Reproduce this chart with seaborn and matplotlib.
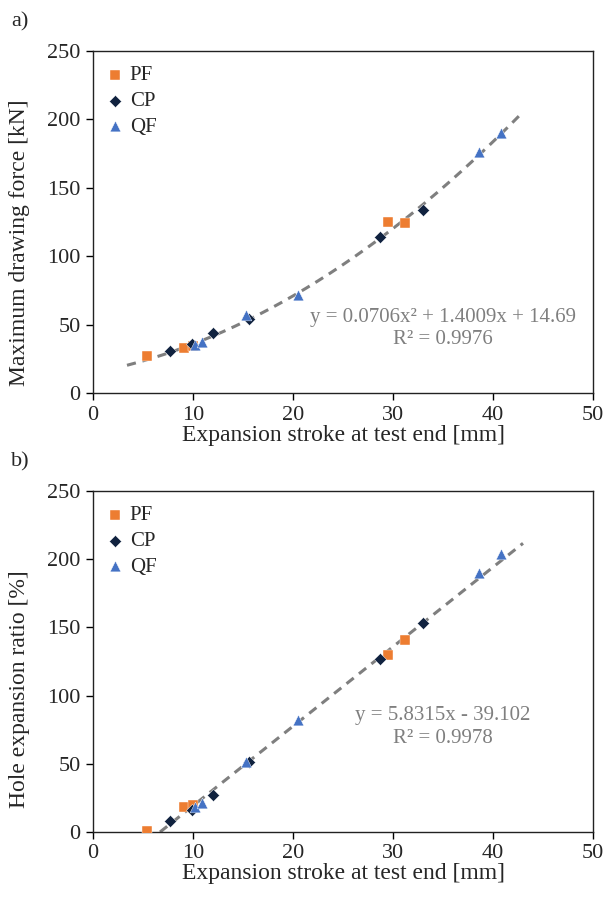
import numpy as np
import pandas as pd
import matplotlib
matplotlib.use("Agg")
import matplotlib.pyplot as plt
import seaborn as sns

# ---- data ----
groups = ["PF", "CP", "QF"]
pf_stroke = [5.4, 9.1, 10.0, 29.5, 31.2]
pf_force = [27, 33, 34, 125, 124]
pf_her = [1, 18, 20, 130, 141]
cp_stroke = [7.7, 9.9, 12.0, 15.6, 28.7, 33.0]
cp_force = [31, 36, 44, 54, 114, 134]
cp_her = [8, 16, 27, 51, 127, 153]
qf_stroke = [10.2, 10.9, 15.3, 20.5, 38.6, 40.8]
qf_force = [35, 37, 57, 72, 176, 190]
qf_her = [18, 21, 51, 82, 190, 204]

fit_force = [0.0706, 1.4009, 14.69]   # quadratic
fit_her = [5.8315, -39.102]           # linear
fit_force_range = [3.4, 43.0]
fit_her_range = [6.7, 43.0]

colors = {"PF": "#ED7D31", "CP": "#10223F", "QF": "#4472C4"}
markers = {"PF": "s", "CP": "D", "QF": "^"}
sizes = {"PF": 45, "CP": 38, "QF": 60}

df = pd.DataFrame({
    "group": ["PF"] * len(pf_stroke) + ["CP"] * len(cp_stroke) + ["QF"] * len(qf_stroke),
    "stroke": pf_stroke + cp_stroke + qf_stroke,
    "force": pf_force + cp_force + qf_force,
    "her": pf_her + cp_her + qf_her,
})

sns.set_theme(style="ticks")
plt.rcParams["font.family"] = ["Liberation Serif", "DejaVu Serif"]

fig = plt.figure(figsize=(6.09, 9.02), dpi=100)
W, H = 609, 902
ax1 = fig.add_axes([93 / W, 1 - 393 / H, (593 - 93) / W, (393 - 51) / H])
ax2 = fig.add_axes([93 / W, 1 - 832 / H, (593 - 93) / W, (832 - 491) / H])

grey = "#7F7F7F"

def draw(ax, ycol, fit, rng, eq_lines, eq_y, ylabel, ylab_y):
    xs = np.linspace(rng[0], rng[1], 200)
    ys = np.polyval(fit, xs)
    sns.lineplot(x=xs, y=ys, ax=ax, color=grey, lw=2.2, linestyle=(0, (3.0, 2.2)), zorder=1)
    for g in groups:
        sub = df[df.group == g]
        sns.scatterplot(data=sub, x="stroke", y=ycol, ax=ax, marker=markers[g],
                        color=colors[g], s=sizes[g], edgecolor="white", linewidth=0.3,
                        label=g, zorder=3)
    ax.set_xlim(0, 50)
    ax.set_ylim(0, 250)
    ax.set_xticks(range(0, 51, 10))
    ax.set_yticks(range(0, 251, 50))
    ax.tick_params(labelsize=16, length=5, width=1.0, direction="out", color="black", pad=4)
    for s in ["top", "right", "left", "bottom"]:
        ax.spines[s].set_linewidth(1.0)
        ax.spines[s].set_color("#222222")
    ax.set_xlabel("Expansion stroke at test end [mm]", fontsize=17, labelpad=0)
    ax.set_ylabel(ylabel, fontsize=17)
    ax.yaxis.set_label_coords(-0.125, ylab_y)
    ax.legend(loc="upper left", frameon=False, fontsize=15, handletextpad=0.1,
              borderaxespad=0.3, labelspacing=0.3, handlelength=1.2,
              bbox_to_anchor=(-0.01, 1.0))
    ax.text(0.70, eq_y[0], eq_lines[0], transform=ax.transAxes, ha="center", va="center",
            fontsize=15, color=grey)
    ax.text(0.70, eq_y[1], eq_lines[1], transform=ax.transAxes, ha="center", va="center",
            fontsize=15, color=grey)

draw(ax1, "force", fit_force, fit_force_range,
     ["y = 0.0706x² + 1.4009x + 14.69", "R² = 0.9976"], [0.222, 0.155],
     "Maximum drawing force [kN]", 0.44)
draw(ax2, "her", fit_her, fit_her_range,
     ["y = 5.8315x - 39.102", "R² = 0.9978"], [0.343, 0.273],
     "Hole expansion ratio [%]", 0.42)

fig.text(11 / W, 1 - 22 / H, "a)", fontsize=16, va="center", ha="left")
fig.text(11 / W, 1 - 462 / H, "b)", fontsize=16, va="center", ha="left")

fig.savefig("out.png", dpi=100, facecolor="white")
